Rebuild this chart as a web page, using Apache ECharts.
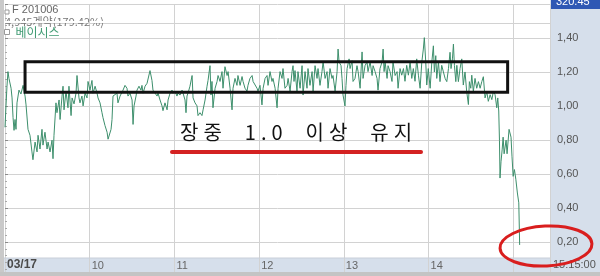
<!DOCTYPE html>
<html><head><meta charset="utf-8">
<script src="https://cdn.jsdelivr.net/npm/echarts@6/dist/echarts.min.js"></script>
<style>html,body{margin:0;padding:0;background:#fff;overflow:hidden}#c{width:600px;height:276px}</style>
</head><body><div id="c"></div>
<script>
// minutes since 09:00 on 03/17
const minutes = [0,0.7,1.4,2.1,2.8,3.5,4.3,5.0,5.7,6.4,7.1,7.8,8.5,9.9,11.3,12.8,14.2,14.9,16.3,17.7,19.1,19.8,21.3,22.7,23.4,24.8,26.2,26.9,28.3,29.8,30.5,31.9,33.3,34.0,34.7,36.1,36.8,38.3,39.0,40.4,41.1,41.8,43.2,44.6,45.3,46.8,47.5,48.9,50.3,51.0,52.4,53.1,54.5,55.3,56.7,58.1,58.8,60.2,61.6,62.3,63.8,65.2,65.9,67.3,68.7,69.4,70.8,72.3,73.0,73.7,75.1,75.8,76.5,77.9,79.3,80.0,81.5,82.9,83.6,85.0,86.4,87.1,88.5,90.0,90.7,91.4,92.8,93.5,94.9,96.3,97.0,97.8,99.2,100.6,101.3,102.7,104.1,104.8,106.3,107.7,108.4,109.8,111.2,111.9,113.3,114.8,115.5,116.9,118.3,119.0,120.4,121.8,122.5,124.0,125.4,126.1,127.5,128.2,128.9,129.6,131.0,132.5,133.2,134.6,136.0,136.7,138.1,139.5,140.3,141.7,143.1,143.8,145.2,145.9,146.6,147.3,148.8,150.2,150.9,152.3,153.7,154.4,155.8,157.3,158.0,159.4,160.8,161.5,162.9,164.3,165.0,166.5,167.9,168.6,170.0,171.4,172.1,173.5,175.0,175.7,177.1,178.5,179.2,180.6,182.0,182.8,184.2,185.6,186.3,187.7,189.1,189.8,191.3,192.7,193.4,194.8,196.2,196.9,198.3,199.8,200.5,201.9,203.3,204.0,204.7,205.4,206.8,207.5,209.0,210.4,211.1,212.5,213.9,214.6,216.0,217.5,218.2,219.6,221.0,221.7,223.1,224.5,225.3,226.7,228.1,228.8,230.2,231.6,232.3,233.8,235.2,235.9,236.6,238.0,238.7,239.4,240.8,241.5,242.3,243.7,244.4,245.8,246.5,247.9,249.3,250.1,251.5,252.9,253.6,255.0,256.4,257.1,258.6,260.0,260.7,262.1,263.5,264.2,265.6,267.1,267.8,268.5,269.2,270.6,271.3,272.7,274.1,274.8,276.3,277.7,278.4,279.8,281.0,282.2,283.3,284.5,285.7,286.9,288.1,289.2,290.4,291.6,292.8,294.0,295.2,296.3,297.0,298.0,298.7,299.8,301.1,302.3,303.4,304.1,305.1,305.8,307.0,308.1,309.3,310.5,311.7,312.9,314.1,315.2,315.9,316.9,317.6,318.3,319.3,320.0,321.1,322.3,323.5,324.6,325.8,327.0,328.2,328.9,329.9,330.6,331.7,332.9,334.1,335.3,336.5,337.7,338.8,340.0,341.2,342.3,343.6,344.8,345.9,347.1,348.3,349.0,349.7,350.2,350.6,351.3,352.1,352.8,353.5,354.9,355.6,357.0,358.4,359.1,359.9,360.8,361.8,362.9,363.9,364.3,364.5];
const basis = [0.876,1.002,1.118,1.204,1.164,1.175,1.106,1.049,0.933,0.858,0.922,0.864,1.020,1.095,1.072,1.123,1.060,1.008,0.864,0.829,0.731,0.685,0.789,0.731,0.829,0.748,0.864,0.771,0.847,0.748,0.789,0.731,0.800,0.691,0.829,1.020,0.962,1.037,0.922,1.060,1.118,0.979,1.089,0.991,1.118,0.945,1.049,1.014,1.077,1.181,1.049,1.020,1.060,1.002,1.077,1.049,1.146,1.095,1.152,1.077,1.118,1.077,1.049,1.020,0.962,0.933,0.887,0.847,0.806,0.800,0.864,0.922,1.060,1.049,1.077,1.020,1.060,1.049,1.095,1.123,1.106,1.060,1.077,1.037,0.893,1.002,1.060,1.095,1.118,1.095,1.123,1.077,1.118,1.135,1.146,1.210,1.152,1.095,1.077,1.060,1.077,1.037,1.002,0.974,1.020,0.979,1.037,1.077,1.095,1.077,1.089,1.060,1.077,1.066,1.095,1.077,1.037,0.962,1.060,1.077,1.118,1.181,1.049,1.020,1.002,0.945,0.962,0.945,0.979,1.037,1.118,1.152,1.239,1.066,1.146,0.991,1.106,1.146,1.181,1.146,1.204,1.106,1.233,1.181,1.204,1.106,0.979,1.106,1.164,1.123,1.181,1.123,1.175,1.146,1.106,1.089,1.123,1.164,1.181,1.146,1.146,1.106,1.089,1.123,1.008,1.106,1.164,1.181,1.123,1.204,1.146,1.164,1.106,0.991,1.106,1.204,1.164,1.222,1.106,1.123,1.164,1.089,1.204,1.239,1.146,1.210,1.089,1.204,1.106,1.239,1.066,1.204,1.106,1.222,1.123,1.204,1.089,1.239,1.164,1.222,1.123,1.204,1.262,1.164,1.204,1.106,1.222,1.164,1.181,1.089,1.204,1.337,1.262,1.239,1.164,1.066,1.002,1.123,1.222,1.279,1.222,1.268,1.146,1.164,1.239,1.204,1.106,1.320,1.164,1.239,1.262,1.204,1.262,1.181,1.239,1.204,1.164,1.095,1.222,1.262,1.337,1.204,1.262,1.164,1.239,1.204,1.146,1.262,1.181,1.204,1.106,1.222,1.183,1.222,1.147,1.241,1.183,1.260,1.164,1.222,1.147,1.279,1.183,1.106,1.260,1.337,1.404,1.260,1.125,1.222,1.106,1.260,1.356,1.202,1.298,1.164,1.260,1.145,1.241,1.202,1.164,1.145,1.222,1.318,1.222,1.279,1.366,1.241,1.145,1.241,1.145,1.222,1.279,1.125,1.202,1.087,1.010,1.145,1.106,1.183,1.087,1.164,1.106,1.145,1.106,1.145,1.174,1.049,1.087,1.029,1.068,1.039,1.087,1.068,0.991,1.049,0.972,0.800,0.577,0.673,0.743,0.818,0.720,0.800,0.720,0.864,0.818,0.702,0.587,0.627,0.570,0.489,0.431,0.270,0.183];
const dayLabels = ['03/17','10','11','12','13','14'];
const boxRange = { x: [14.2, 356], y: [1.083, 1.262] };
const noteText = '장중 1.0 이상 유지';

const GRID = '#d2d2d2';
const noteRich = noteText.split('').map(ch => ch === ' ' ? '{s|\u00a0}' : '{c|' + ch + '}').join('');
const chart = echarts.init(document.getElementById('c'), null, { renderer: 'canvas' });
chart.setOption({
  animation: false,
  backgroundColor: '#ffffff',
  grid: [
    { left: 5, right: 50, top: 4.4, height: 277.3, containLabel: false },
    { left: 5, right: 50, top: 258, height: 14, containLabel: false }
  ],
  legend: {
    left: 4, top: 26, padding: 0, icon: 'rect', itemWidth: 5, itemHeight: 5, itemGap: 4,
    data: [{ name: '베이시스', itemStyle: { color: '#ffffff', borderColor: '#999', borderWidth: 1 } }],
    textStyle: { color: '#3f9a72', fontSize: 12, fontFamily: "'Noto Sans CJK KR'", padding: [0, 0, 0, 1] }
  },
  xAxis: [
    { type: 'value', gridIndex: 0, min: 0, max: 386, interval: 60,
      axisLine: { show: false }, axisTick: { show: false }, axisLabel: { show: false },
      splitLine: { show: true, lineStyle: { color: GRID, width: 1 } } },
    { type: 'value', gridIndex: 1, min: 0, max: 386, interval: 60, position: 'bottom',
      axisLine: { show: false }, axisTick: { show: false }, splitLine: { show: false },
      axisLabel: { inside: true, margin: 1, align: 'left', verticalAlign: 'bottom', padding: [0, 0, 0, 2],
        color: '#666', fontSize: 11, fontFamily: "'Liberation Sans'",
        formatter: v => { const i = Math.round(v / 60); if (Math.abs(v - i * 60) > 0.01 || i >= dayLabels.length) return ''; return i === 0 ? '{b|' + dayLabels[0] + '}' : dayLabels[i]; },
        rich: { b: { fontWeight: 'bold', color: '#4a4a4a', fontSize: 12, fontFamily: "'Liberation Sans'" } } } }
  ],
  yAxis: [
    { type: 'value', gridIndex: 0, position: 'right', min: 0, max: 1.6, interval: 0.2,
      axisLine: { show: false },
      axisTick: { show: true, length: 3, inside: false, lineStyle: { color: '#8a8a8a' } },
      minorTick: { show: true, splitNumber: 5, length: 2, lineStyle: { color: '#a8a8a8' } },
      axisLabel: { margin: 7, color: '#555', fontSize: 11, fontFamily: "'Liberation Sans'",
        formatter: v => (v < 0.1 || v > 1.5) ? '' : v.toFixed(2).replace('.', ',') },
      splitLine: { show: true, lineStyle: { color: GRID, width: 1 } } },
    { type: 'value', gridIndex: 1, show: false, min: 0, max: 1 }
  ],
  series: [{
    name: '베이시스', type: 'line', xAxisIndex: 0, yAxisIndex: 0,
    data: minutes.map((m, i) => [m, basis[i]]),
    showSymbol: false, symbol: 'none',
    lineStyle: { color: '#3d8f6c', width: 1 }, itemStyle: { color: '#3d8f6c' },
    z: 3,
    markArea: { silent: true, z: 5,
      itemStyle: { color: 'rgba(0,0,0,0)', borderColor: '#111', borderWidth: 3 },
      data: [[{ xAxis: boxRange.x[0], yAxis: boxRange.y[1] }, { xAxis: boxRange.x[1], yAxis: boxRange.y[0] }]] }
  }],
  graphic: [
    { type: 'rect', z: -1, shape: { x: 550, y: 0, width: 50, height: 272 }, style: { fill: '#d6dfeb' } },
    { type: 'rect', z: -1, shape: { x: 4, y: 258, width: 546, height: 14 }, style: { fill: '#d6dfeb' } },
    { type: 'rect', z: 1, shape: { x: 0, y: 0, width: 4, height: 276 }, style: { fill: '#c9c9c9' } },
    { type: 'rect', z: 1, shape: { x: 0, y: 272, width: 600, height: 4 }, style: { fill: '#c4c4c4' } },
    { type: 'line', z: 1, shape: { x1: 4, y1: 258, x2: 550, y2: 258 }, style: { stroke: '#c8cfd9', lineWidth: 1 } },
    { type: 'line', z: 1, shape: { x1: 5, y1: 23.5, x2: 550, y2: 23.5 }, style: { stroke: GRID, lineWidth: 1 } },
    { type: 'rect', z: 2, shape: { x: 5, y: 10, width: 4, height: 4 }, style: { fill: '#fff', stroke: '#999', lineWidth: 1 } },
    { type: 'text', z: 2, x: 12, y: 4, style: { text: 'F 201006', fill: '#666', font: "11px 'Liberation Sans'" } },
    { type: 'text', z: 2, x: 5, y: 16, style: { text: '4,945계약(179.42%)', fill: '#777', font: "11px 'Noto Sans CJK KR'" } },
    { type: 'rect', z: 2, shape: { x: 4, y: 21, width: 84, height: 2 }, style: { fill: '#fff' } },
    { type: 'rect', z: 2, shape: { x: 90, y: 21, width: 30, height: 2 }, style: { fill: '#fff' } },
    { type: 'rect', z: 2, shape: { x: 551, y: 0, width: 49, height: 9 }, style: { fill: '#2f58b4' } },
    { type: 'text', z: 3, x: 556, y: -4, style: { text: '320.45', fill: '#fff', font: "11px 'Liberation Sans'" } },
    { type: 'text', z: 3, x: 553, y: 259, style: { text: '15:15:00', fill: '#555', font: "11px 'Liberation Sans'" } },
    { type: 'text', z: 10, x: 177.5, y: 122, style: { text: noteRich, fill: '#111',
        rich: { c: { fontSize: 20, fontFamily: "'Noto Sans CJK KR'", fill: '#111', padding: [0, 2.5, 0, 2.5] },
                s: { fontSize: 20, width: 18 } } } },
    { type: 'line', z: 10, shape: { x1: 172, y1: 152, x2: 421, y2: 152 }, style: { stroke: '#d42222', lineWidth: 4, lineCap: 'round' } },
    { type: 'ellipse', z: 10, shape: { cx: 546, cy: 246, rx: 46, ry: 20 }, rotation: 0.05, originX: 546, originY: 246, style: { fill: 'none', stroke: '#d91e1e', lineWidth: 3 } }
  ]
});
</script></body></html>
